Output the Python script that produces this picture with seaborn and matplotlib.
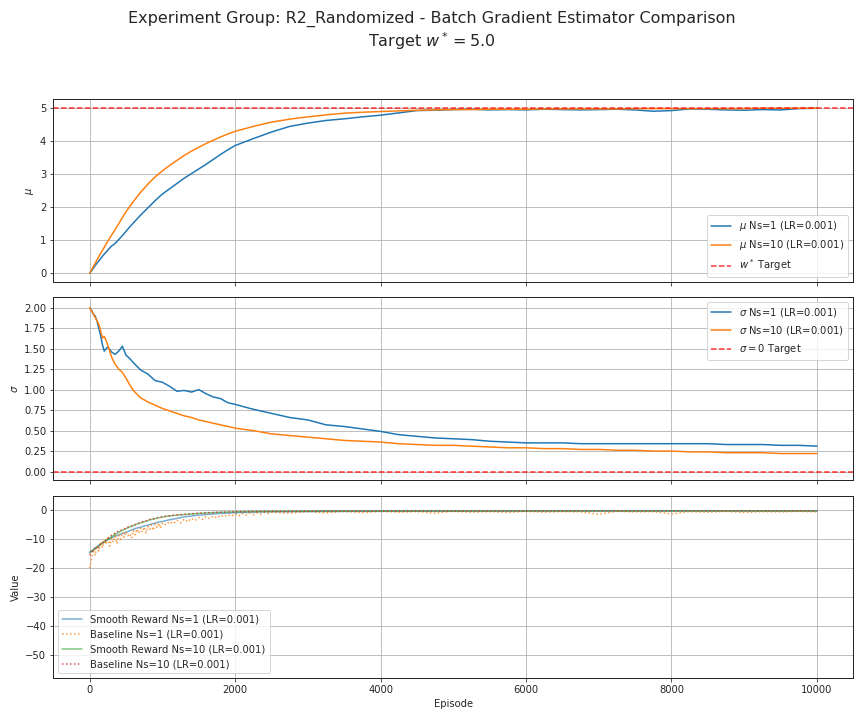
import matplotlib
matplotlib.use("Agg")
import matplotlib.pyplot as plt
import seaborn as sns

# ---------------- data ----------------
ep_param = [0, 25, 50, 75, 100, 125, 150, 175, 200, 225, 250, 275, 300,
            350, 400, 450, 500, 550, 600,
            700, 800, 900, 1000, 1100, 1200, 1300, 1400, 1500, 1600, 1700, 1800, 1900, 2000,
            2250, 2500, 2750, 3000, 3250, 3500, 3750, 4000, 4250, 4500, 4750, 5000,
            5250, 5500, 5750, 6000, 6250, 6500, 6750, 7000, 7250, 7500, 7750, 8000,
            8250, 8500, 8750, 9000, 9250, 9500, 9750, 10000]

mu_ns1 = [0.00, 0.07, 0.15, 0.23, 0.30, 0.37, 0.44, 0.51, 0.58, 0.64, 0.70, 0.76, 0.82,
          0.90, 1.02, 1.14, 1.27, 1.40, 1.52,
          1.76, 1.98, 2.20, 2.40, 2.56, 2.72, 2.88, 3.02, 3.16, 3.30, 3.45, 3.60, 3.74, 3.87,
          4.08, 4.28, 4.45, 4.55, 4.63, 4.68, 4.74, 4.79, 4.86, 4.93, 4.94, 4.96,
          4.97, 4.95, 4.96, 4.95, 4.97, 4.96, 4.95, 4.96, 4.97, 4.95, 4.91, 4.93,
          4.98, 4.97, 4.95, 4.94, 4.96, 4.95, 4.99, 5.00]

mu_ns10 = [0.00, 0.10, 0.20, 0.30, 0.40, 0.50, 0.60, 0.69, 0.78, 0.88, 0.97, 1.06, 1.15,
           1.32, 1.50, 1.69, 1.86, 2.02, 2.17,
           2.45, 2.70, 2.92, 3.10, 3.27, 3.42, 3.57, 3.70, 3.82, 3.93, 4.03, 4.13, 4.22, 4.30,
           4.45, 4.58, 4.67, 4.74, 4.80, 4.85, 4.88, 4.90, 4.92, 4.94, 4.95, 4.96,
           4.96, 4.97, 4.97, 4.97, 4.98, 4.98, 4.98, 4.98, 4.98, 4.99, 4.99, 4.99,
           4.99, 4.99, 4.99, 4.99, 5.00, 5.00, 5.00, 5.00]

sigma_ns1 = [2.00, 1.97, 1.92, 1.90, 1.84, 1.75, 1.66, 1.55, 1.47, 1.50, 1.52, 1.49, 1.46,
             1.43, 1.47, 1.53, 1.42, 1.38, 1.33,
             1.24, 1.19, 1.11, 1.09, 1.04, 0.98, 0.99, 0.97, 1.00, 0.95, 0.91, 0.89, 0.84, 0.82,
             0.76, 0.71, 0.66, 0.63, 0.57, 0.55, 0.52, 0.49, 0.45, 0.43, 0.41, 0.40,
             0.39, 0.37, 0.36, 0.35, 0.35, 0.35, 0.34, 0.34, 0.34, 0.34, 0.34, 0.34,
             0.34, 0.34, 0.33, 0.33, 0.33, 0.32, 0.32, 0.31]

sigma_ns10 = [2.00, 1.96, 1.93, 1.88, 1.84, 1.80, 1.72, 1.63, 1.65, 1.60, 1.54, 1.47, 1.40,
              1.31, 1.25, 1.21, 1.14, 1.06, 0.99,
              0.90, 0.85, 0.81, 0.77, 0.74, 0.71, 0.68, 0.66, 0.63, 0.61, 0.59, 0.57, 0.55, 0.53,
              0.50, 0.46, 0.44, 0.42, 0.40, 0.38, 0.37, 0.36, 0.34, 0.33, 0.32, 0.32,
              0.31, 0.30, 0.29, 0.29, 0.28, 0.28, 0.27, 0.27, 0.26, 0.26, 0.25, 0.25,
              0.24, 0.24, 0.23, 0.23, 0.23, 0.22, 0.22, 0.22]

ep_reward = ([0, 25, 50, 75, 100, 125, 150, 175, 200, 225, 250, 275, 300, 325, 350, 375,
              400, 425, 450, 475, 500, 525, 550, 575, 600, 625, 650, 675, 700, 725, 750,
              775, 800, 825, 850, 875, 900, 925, 950, 975, 1000]
             + [1050, 1100, 1150, 1200, 1250, 1300, 1350, 1400, 1450, 1500, 1550, 1600,
                1650, 1700, 1750, 1800, 1850, 1900, 1950, 2000, 2050, 2100, 2150, 2200,
                2250, 2300, 2350, 2400, 2450, 2500]
             + [2750, 3000, 3250, 3500, 3750, 4000, 4250, 4500, 4750, 5000, 5250, 5500,
                5750, 6000, 6250, 6500, 6750, 7000, 7250, 7500, 7750, 8000, 8250, 8500,
                8750, 9000, 9250, 9500, 9750, 10000])

smooth_ns1 = [-14.5, -14.0, -13.6, -13.0, -12.5, -12.0, -11.6, -11.2, -10.8, -10.4, -10.1,
              -9.8, -9.5, -9.2, -8.9, -8.7, -8.5, -8.2, -8.0, -7.8, -7.5, -7.3, -7.0, -6.8,
              -6.5, -6.3, -6.1, -5.9, -5.8, -5.6, -5.4, -5.2, -5.1, -4.9, -4.7, -4.5, -4.4,
              -4.2, -4.0, -3.9, -3.8,
              -3.5, -3.2, -3.0, -2.7, -2.5, -2.2, -2.05, -1.9, -1.75, -1.6, -1.5, -1.4,
              -1.3, -1.2, -1.1, -1.0, -0.95, -0.9, -0.85, -0.8, -0.75, -0.7, -0.66, -0.62,
              -0.58, -0.55, -0.52, -0.5, -0.48, -0.46,
              -0.42, -0.38, -0.35, -0.32, -0.30, -0.28, -0.27, -0.26, -0.25, -0.25, -0.24,
              -0.24, -0.23, -0.23, -0.23, -0.22, -0.22, -0.22, -0.22, -0.21, -0.21, -0.21,
              -0.21, -0.20, -0.20, -0.20, -0.20, -0.20, -0.20, -0.20]

baseline_ns1 = [-20.0, -16.8, -13.5, -15.6, -12.2, -14.1, -10.8, -13.0, -10.2, -11.8, -9.1,
                -12.4, -9.6, -11.0, -8.2, -11.5, -8.6, -10.0, -7.6, -9.3, -7.3, -8.8, -8.0,
                -9.6, -6.9, -8.4, -6.4, -7.9, -6.1, -7.5, -5.7, -7.8, -5.5, -6.6, -5.0, -6.9,
                -4.7, -5.9, -4.4, -6.2, -4.3,
                -5.0, -3.8, -4.6, -3.4, -4.3, -3.0, -3.9, -2.7, -3.5, -2.4, -3.1, -2.1, -2.8,
                -1.9, -2.6, -1.6, -2.2, -1.4, -2.0, -1.2, -1.9, -1.0, -1.6, -0.9, -1.4, -0.8,
                -1.3, -0.7, -1.1, -0.6,
                -0.9, -0.4, -0.8, -0.3, -0.7, -0.3, -0.6, -0.4, -0.9, -0.3, -0.6, -0.4, -0.7,
                -0.3, -0.6, -0.4, -0.5, -1.3, -0.3, -0.5, -0.4, -1.2, -0.4, -0.6, -0.3, -0.7,
                -0.4, -0.5, -0.3, -0.5]

smooth_ns10 = [-14.5, -14.2, -13.8, -13.3, -12.8, -12.4, -11.9, -11.4, -10.9, -10.5, -10.0,
               -9.6, -9.1, -8.7, -8.3, -7.9, -7.6, -7.2, -6.9, -6.6, -6.3, -6.0, -5.7, -5.5,
               -5.2, -5.0, -4.7, -4.5, -4.3, -4.1, -3.9, -3.7, -3.5, -3.3, -3.1, -3.0, -2.8,
               -2.7, -2.5, -2.4, -2.3,
               -2.05, -1.9, -1.75, -1.62, -1.5, -1.4, -1.3, -1.2, -1.1, -1.0, -0.92, -0.85,
               -0.78, -0.72, -0.67, -0.62, -0.58, -0.54, -0.5, -0.47, -0.44, -0.42, -0.4,
               -0.38, -0.36, -0.34, -0.33, -0.32, -0.31, -0.30,
               -0.28, -0.25, -0.22, -0.21, -0.20, -0.19, -0.18, -0.18, -0.17, -0.17, -0.16,
               -0.16, -0.16, -0.15, -0.15, -0.15, -0.15, -0.14, -0.14, -0.14, -0.14, -0.14,
               -0.13, -0.13, -0.13, -0.13, -0.13, -0.13, -0.12, -0.12]

baseline_ns10 = [-15.5, -14.3, -14.0, -13.1, -12.6, -12.9, -11.6, -11.5, -10.4, -10.4, -9.5,
                 -9.4, -8.6, -8.4, -7.7, -7.6, -7.0, -7.0, -6.4, -6.4, -5.9, -5.8, -5.4, -5.4,
                 -4.9, -4.9, -4.5, -4.4, -4.0, -3.9, -3.6, -3.6, -3.2, -3.1, -2.9, -2.9, -2.6,
                 -2.5, -2.4, -2.3, -2.2,
                 -1.95, -1.8, -1.65, -1.55, -1.45, -1.35, -1.25, -1.15, -1.05, -0.95, -0.88,
                 -0.8, -0.74, -0.68, -0.63, -0.58, -0.54, -0.5, -0.47, -0.44, -0.41, -0.39,
                 -0.37, -0.35, -0.33, -0.32, -0.31, -0.30, -0.29, -0.29,
                 -0.28, -0.25, -0.22, -0.21, -0.20, -0.19, -0.18, -0.18, -0.17, -0.17, -0.16,
                 -0.16, -0.16, -0.15, -0.15, -0.15, -0.15, -0.14, -0.14, -0.14, -0.14, -0.14,
                 -0.13, -0.13, -0.13, -0.13, -0.13, -0.13, -0.12, -0.12]

w_target = 5.0
sigma_target = 0.0

# ---------------- plot ----------------
sns.set_style("ticks")
plt.rcParams["font.family"] = ["DejaVu Sans"]

blue, orange, green, red = "#1f77b4", "#ff7f0e", "#2ca02c", "#d62728"

fig, axes = plt.subplots(3, 1, figsize=(12, 10), dpi=72, sharex=True)
fig.subplots_adjust(left=0.0617, right=0.9876, top=0.862, bottom=0.058, hspace=0.084)

ax = axes[0]
sns.lineplot(x=ep_param, y=mu_ns1, ax=ax, color=blue, lw=1.5, label=r"$\mu$ Ns=1 (LR=0.001)")
sns.lineplot(x=ep_param, y=mu_ns10, ax=ax, color=orange, lw=1.5, label=r"$\mu$ Ns=10 (LR=0.001)")
ax.axhline(w_target, color="r", ls="--", alpha=0.8, lw=1.5, label=r"$w^*$ Target")
ax.set_ylabel(r"$\mu$")
ax.set_ylim(-0.27, 5.27)
ax.legend(loc="lower right")

ax = axes[1]
sns.lineplot(x=ep_param, y=sigma_ns1, ax=ax, color=blue, lw=1.5, label=r"$\sigma$ Ns=1 (LR=0.001)")
sns.lineplot(x=ep_param, y=sigma_ns10, ax=ax, color=orange, lw=1.5, label=r"$\sigma$ Ns=10 (LR=0.001)")
ax.axhline(sigma_target, color="r", ls="--", alpha=0.8, lw=1.5, label=r"$\sigma=0$ Target")
ax.set_ylabel(r"$\sigma$")
ax.set_ylim(-0.105, 2.125)
ax.legend(loc="upper right")

ax = axes[2]
sns.lineplot(x=ep_reward, y=smooth_ns1, ax=ax, color=blue, lw=1.5, alpha=0.6,
             label="Smooth Reward Ns=1 (LR=0.001)")
sns.lineplot(x=ep_reward, y=baseline_ns1, ax=ax, color=orange, lw=1.5, alpha=0.8, linestyle=":",
             label="Baseline Ns=1 (LR=0.001)")
sns.lineplot(x=ep_reward, y=smooth_ns10, ax=ax, color=green, lw=1.5, alpha=0.6,
             label="Smooth Reward Ns=10 (LR=0.001)")
sns.lineplot(x=ep_reward, y=baseline_ns10, ax=ax, color=red, lw=1.5, alpha=0.8, linestyle=":",
             label="Baseline Ns=10 (LR=0.001)")
ax.set_ylabel("Value")
ax.set_xlabel("Episode")
ax.set_ylim(-58.2, 5.2)
ax.legend(loc="lower left")

for ax in axes:
    ax.grid(True, color="#b0b0b0", lw=0.8)
    ax.set_xlim(-500, 10500)
    ax.set_xticks([0, 2000, 4000, 6000, 8000, 10000])
    for s in ax.spines.values():
        s.set_visible(True)
        s.set_color("#262626")
        s.set_linewidth(1.0)
    ax.tick_params(direction="out", length=3.5, width=0.8, colors="#262626", labelsize=10)

fig.suptitle("Experiment Group: R2_Randomized - Batch Gradient Estimator Comparison\n"
             r"Target $w^*=5.0$", fontsize=16, y=0.985)

fig.savefig("out.png", dpi=72)
